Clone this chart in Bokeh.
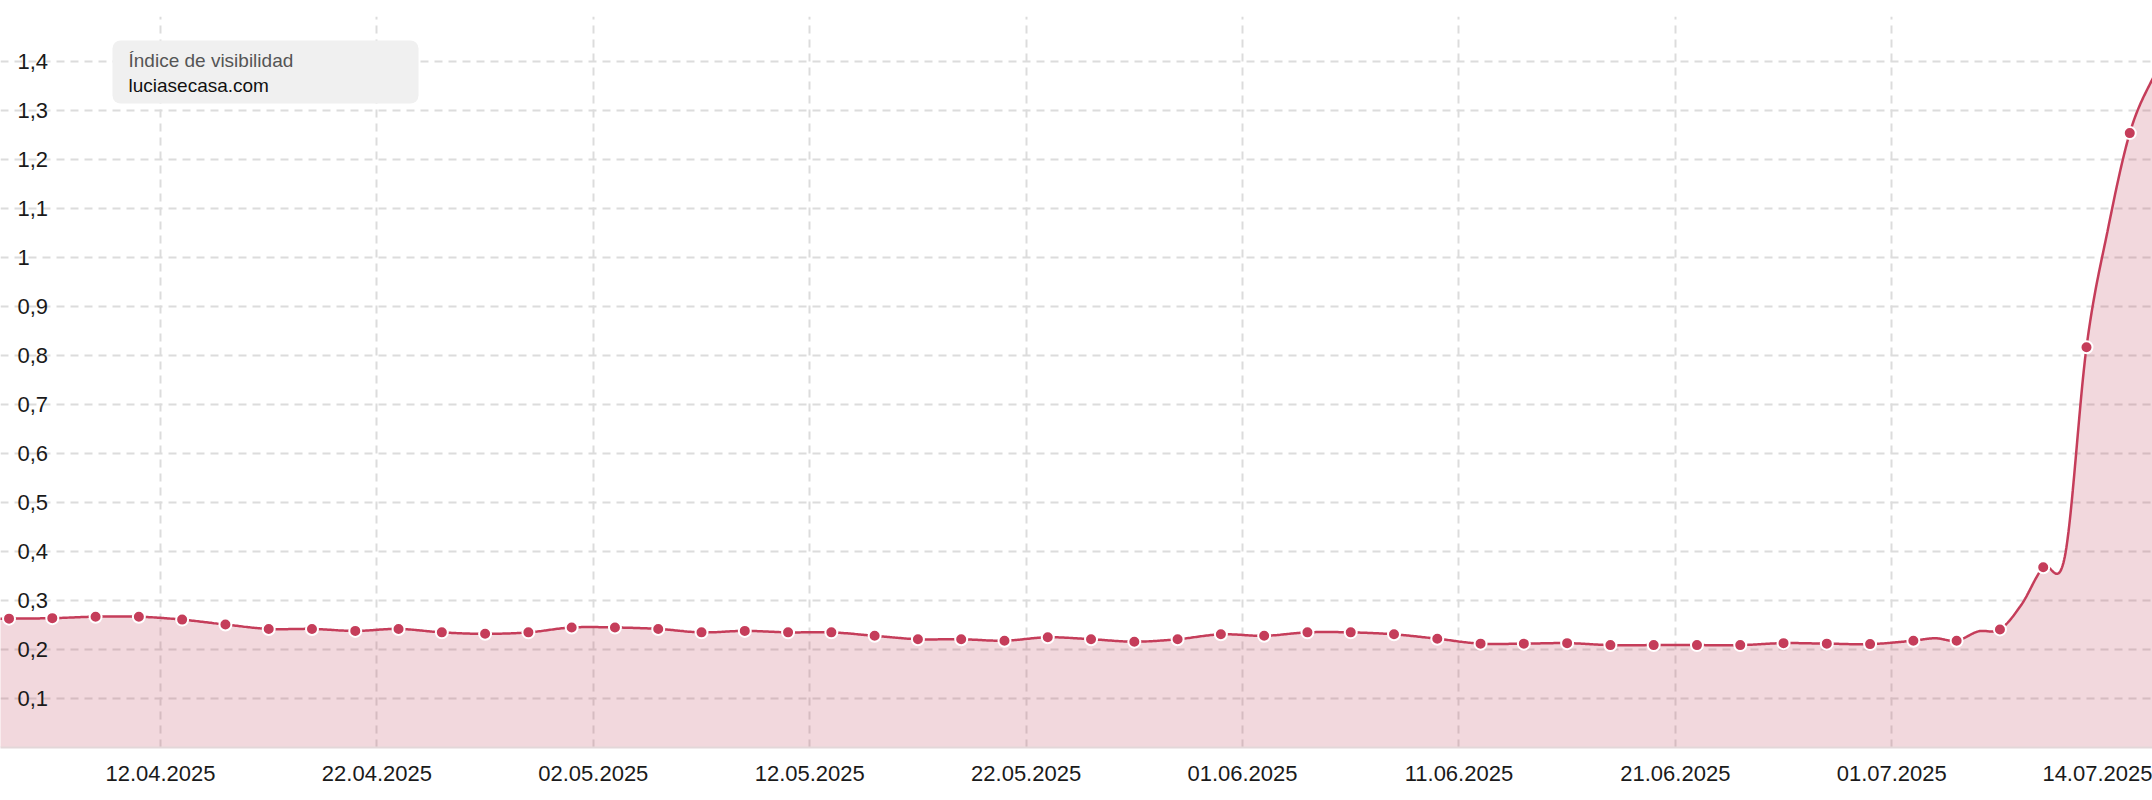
from datetime import datetime
import numpy as np
from bokeh.plotting import figure
from bokeh.models import Range1d, FixedTicker, DatetimeTickFormatter, BoxAnnotation, Label
from bokeh.core.properties import value
from bokeh.embed import file_html
from bokeh.resources import INLINE

# ---------------- data ----------------
marker_dates = [
    "05.04", "07.04", "09.04", "11.04", "13.04", "15.04", "17.04", "19.04", "21.04", "23.04",
    "25.04", "27.04", "29.04", "01.05", "03.05", "05.05", "07.05", "09.05", "11.05", "13.05",
    "15.05", "17.05", "19.05", "21.05", "23.05", "25.05", "27.05", "29.05", "31.05", "02.06",
    "04.06", "06.06", "08.06", "10.06", "12.06", "14.06", "16.06", "18.06", "20.06", "22.06",
    "24.06", "26.06", "28.06", "30.06", "02.07", "04.07", "06.07", "08.07", "10.07", "12.07",
    "14.07",
]
marker_values = [
    0.263, 0.264, 0.267, 0.267, 0.261, 0.251, 0.242, 0.242, 0.238, 0.242,
    0.235, 0.232, 0.235, 0.245, 0.245, 0.242, 0.235, 0.238, 0.235, 0.235,
    0.228, 0.221, 0.221, 0.218, 0.225, 0.221, 0.216, 0.221, 0.231, 0.228,
    0.235, 0.235, 0.231, 0.222, 0.212, 0.212, 0.213, 0.209, 0.209, 0.209,
    0.209, 0.213, 0.212, 0.211, 0.218, 0.218, 0.241, 0.368, 0.817, 1.254,
    1.43,
]
# values that the line passes through without a marker
extra_dates = ["03.04", "03.07", "05.07", "07.07", "09.07", "11.07", "13.07"]
extra_values = [0.263, 0.223, 0.237, 0.292, 0.39, 1.06, 1.36]

x_tick_dates = ["12.04", "22.04", "02.05", "12.05", "22.05", "01.06", "11.06", "21.06", "01.07"]
last_label_date = "14.07"
last_label_text = "14.07.2025"
y_ticks = [0.1, 0.2, 0.3, 0.4, 0.5, 0.6, 0.7, 0.8, 0.9, 1.0, 1.1, 1.2, 1.3, 1.4]
y_labels = ["0,1", "0,2", "0,3", "0,4", "0,5", "0,6", "0,7", "0,8", "0,9", "1",
            "1,1", "1,2", "1,3", "1,4"]
legend_title = "Índice de visibilidad"
legend_item = "luciasecasa.com"

YEAR = 2025
EPOCH = datetime(1970, 1, 1)
DAY = 86400000.0


def ms(s):
    d = datetime.strptime(f"{s}.{YEAR}", "%d.%m.%Y")
    return (d - EPOCH).total_seconds() * 1000.0


# ---------------- smooth curve (rendering only) ----------------
line_pts = sorted([(ms(d), v) for d, v in zip(marker_dates, marker_values)] +
                  [(ms(d), v) for d, v in zip(extra_dates, extra_values)])
lx = np.array([q[0] for q in line_pts])
ly = np.array([q[1] for q in line_pts])
m = np.empty_like(ly)
m[1:-1] = (ly[2:] - ly[:-2]) / (lx[2:] - lx[:-2])
m[0] = (ly[1] - ly[0]) / (lx[1] - lx[0])
m[-1] = (ly[-1] - ly[-2]) / (lx[-1] - lx[-2])
cx, cy = [], []
t = np.linspace(0, 1, 30, endpoint=False)
h00 = 2 * t**3 - 3 * t**2 + 1
h10 = t**3 - 2 * t**2 + t
h01 = -2 * t**3 + 3 * t**2
h11 = t**3 - t**2
for i in range(len(lx) - 1):
    h = lx[i + 1] - lx[i]
    cx.append(lx[i] + t * h)
    cy.append(h00 * ly[i] + h10 * h * m[i] + h01 * ly[i + 1] + h11 * h * m[i + 1])
cx = np.concatenate(cx + [lx[-1:]])
cy = np.concatenate(cy + [ly[-1:]])

# ---------------- figure ----------------
LINE = "#c53d5a"
FONT = "Liberation Sans"

x_start = datetime(2025, 4, 4, 14, 33)
x_end = datetime(2025, 7, 13, 1, 12)
PX_PER_DAY = 21.64

p = figure(width=2152, height=800, x_axis_type="datetime", y_axis_location=None,
           x_range=Range1d(start=x_start, end=x_end), y_range=Range1d(0, 1.492),
           output_backend="svg", toolbar_location=None,
           min_border_left=0, min_border_right=0, min_border_top=16, min_border_bottom=53)
p.outline_line_color = None
p.background_fill_color = "white"
p.border_fill_color = "white"

x_ticks = [ms(d) for d in x_tick_dates]
# last label is right-aligned to the end of the axis (14.07): shift its centre by half its width
last_tick = ms(last_label_date) - (55.0 / PX_PER_DAY) * DAY
p.xaxis.ticker = FixedTicker(ticks=x_ticks + [last_tick])
p.xaxis.major_label_overrides = {last_tick: last_label_text}
fmt = "%d.%m.%Y"
p.xaxis.formatter = DatetimeTickFormatter(
    milliseconds=fmt, seconds=fmt, minsec=fmt, minutes=fmt, hourmin=fmt, hours=fmt,
    days=fmt, months=fmt, years=fmt)
p.xaxis.major_tick_line_color = None
p.xaxis.minor_tick_line_color = None
p.xaxis.axis_line_color = "#e3d7d9"
p.xaxis.axis_line_width = 2
p.xaxis.major_label_text_font = FONT
p.xaxis.major_label_text_font_size = "22px"
p.xaxis.major_label_text_color = "#1a1a1a"
p.xaxis.major_label_standoff = 12

p.xgrid.ticker = FixedTicker(ticks=x_ticks)
p.ygrid.ticker = FixedTicker(ticks=y_ticks)
for g in (p.xgrid, p.ygrid):
    g.grid_line_color = "#dcdcdc"
    g.grid_line_width = 2
    g.grid_line_dash = "8 6"

p.varea(x=cx, y1=0, y2=cy, fill_color="#be3c55", fill_alpha=0.2)
p.line(cx, cy, line_color=LINE, line_width=2.5)
p.scatter([ms(d) for d in marker_dates], marker_values, size=12,
          fill_color=LINE, line_color="white", line_width=2)

p.text(x=[x_start] * len(y_ticks), y=y_ticks, text=y_labels, x_offset=17,
       text_align="left", text_baseline="middle", text_font=value(FONT),
       text_font_size="22px", text_color="#1a1a1a")

# legend box
p.add_layout(BoxAnnotation(left=112, right=418, bottom=644, top=707,
                           left_units="screen", right_units="screen",
                           top_units="screen", bottom_units="screen",
                           fill_color="#f0f0f0", fill_alpha=1.0, line_color=None,
                           border_radius=8))
p.add_layout(Label(x=128, y=687, x_units="screen", y_units="screen", text=legend_title,
                   text_baseline="middle", text_font=FONT, text_font_size="19px",
                   text_color="#555555"))
p.add_layout(Label(x=128, y=662, x_units="screen", y_units="screen", text=legend_item,
                   text_baseline="middle", text_font=FONT, text_font_size="19px",
                   text_color="#111111"))

open("out.html", "w").write(file_html(p, INLINE))
